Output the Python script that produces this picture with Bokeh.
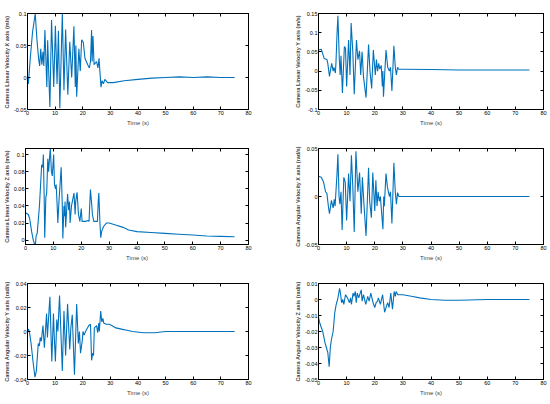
from bokeh.plotting import figure
from bokeh.layouts import column, row
from bokeh.models import FixedTicker, LinearAxis, Range1d, CustomJSTickFormatter
from bokeh.embed import file_html
from bokeh.resources import INLINE

x_ticks = [0, 10, 20, 30, 40, 50, 60, 70, 80]
x_tick_labels = ["0", "10", "20", "30", "40", "50", "60", "70", "80"]
x_range = [0, 80]
x_label = "Time (s)"

# 1: linear velocity X
t1 = [0, 0.3, 1.0, 1.8, 2.8, 3.4, 4.0, 4.4, 4.8, 5.2,
      5.6, 5.9, 6.3, 7.0, 7.3, 8.1, 8.7, 9.5, 10.1, 10.7,
      11.2, 11.7, 12.6, 13.2, 13.8, 14.6, 15.3, 16.0, 16.8, 17.3,
      17.5, 17.8, 18.6, 19.1, 19.6, 20.2, 20.8, 21.3, 21.8, 22.4,
      22.8, 23.2, 23.4, 23.7, 24.1, 25.0, 25.5, 25.9, 26.2, 26.6,
      27.0, 27.5, 28.0, 29.0, 31.0, 35.0, 40.0, 45.0, 50.0, 55.0,
      60.0, 65.0, 70.0, 75.0]
v1 = [0, -0.01, 0.03, 0.07, 0.1, 0.06, 0.03, 0.018, 0.045, 0.02,
      0.04, 0.018, 0.074, -0.015, 0.058, -0.046, 0.09, -0.015, 0.081, -0.01,
      0.073, -0.048, 0.1, -0.02, 0.075, -0.027, 0.056, 0.0, 0.08, -0.015,
      0.05, -0.03, 0.045, 0.01, 0.059, 0.055, 0.03, 0.025, 0.02, 0.015,
      0.025, 0.074, 0.025, 0.065, 0.02, 0.025, 0.015, 0.03, 0.01, -0.015,
      -0.005, -0.01, -0.003, -0.008, -0.008, -0.005, -0.003, -0.001, 0.0, 0.001,
      0.0, 0.001, 0.0, 0.0]
y1_ticks = [-0.05, 0, 0.05, 0.1]
y1_labels = ["-0.05", "0", "0.05", "0.1"]
y1_range = [-0.05, 0.1]
y1_title = "Camera Linear Velocity X axis  (m/s)"

# 2: linear velocity Y
t2 = [0, 1.0, 1.5, 2.0, 3.0, 3.3, 3.9, 4.2, 4.7, 5.2,
      5.5, 6.0, 6.2, 6.6, 6.9, 7.4, 7.7, 8.0, 8.5, 9.2,
      9.6, 10.0, 10.7, 11.2, 11.6, 12.2, 12.7, 13.5, 14.0, 14.6,
      15.0, 15.5, 16.0, 16.9, 17.8, 18.3, 18.9, 19.5, 20.2, 20.6,
      21.0, 21.4, 21.8, 22.3, 22.7, 22.9, 23.1, 24.0, 24.6, 25.2,
      25.6, 26.1, 26.8, 27.3, 27.7, 28.1, 28.5, 30.0, 40.0, 50.0,
      60.0, 75.0]
v2 = [0.055, 0.057, 0.045, 0.033, 0.03, 0.02, -0.014, 0.0, 0.02, 0.0,
      0.01, -0.005, 0.02, 0.1, 0.144, 0.03, -0.01, 0.04, -0.057, 0.064,
      0.06, -0.04, 0.081, -0.01, 0.125, 0.05, -0.06, 0.081, 0.03, 0.053,
      -0.01, 0.05, -0.015, -0.069, 0.069, 0.0, -0.045, 0.055, -0.01, 0.03,
      0.0, 0.02, 0.005, 0.015, -0.04, 0.0, -0.067, 0.055, 0.01, 0.0,
      0.01, -0.052, 0.066, 0.01, -0.01, 0.01, 0.005, 0.005, 0.004, 0.003,
      0.003, 0.003]
y2_ticks = [-0.1, -0.05, 0, 0.05, 0.1, 0.15]
y2_labels = ["-0.1", "-0.05", "0", "0.05", "0.1", "0.15"]
y2_range = [-0.1, 0.15]
y2_title = "Camera Linear Velocity Y axis (m/s)"

# 3: linear velocity Z
t3 = [0, 1.0, 1.5, 2.2, 2.8, 3.3, 3.6, 3.8, 4.2, 5.0,
      5.8, 6.2, 6.4, 6.7, 6.9, 7.3, 7.6, 8.0, 8.3, 8.6,
      8.9, 9.3, 9.6, 10.1, 10.4, 10.8, 11.0, 11.3, 11.6, 12.0,
      12.8, 13.2, 13.4, 13.8, 14.0, 14.2, 14.4, 15.1, 15.5, 15.8,
      16.0, 16.5, 17.4, 17.8, 18.0, 18.5, 19.0, 19.5, 20.0, 20.3,
      21.5, 22.5, 22.8, 23.1, 23.3, 23.8, 24.0, 24.5, 25.8, 26.1,
      26.3, 26.7, 27.0, 27.3, 28.0, 29.0, 30.0, 32.0, 35.0, 37.0,
      40.0, 45.0, 50.0, 55.0, 60.0, 65.0, 70.0, 75.0]
v3 = [0.032, 0.03, 0.025, 0.01, 0.0, -0.005, -0.004, 0.005, 0.008, 0.04,
      0.088, 0.085, 0.1, 0.05, 0.003, 0.05, 0.055, 0.095, 0.08, 0.095,
      0.107, 0.08, 0.075, 0.1, 0.065, 0.06, 0.065, 0.045, 0.02, 0.045,
      0.085, 0.04, 0.002, 0.04, 0.028, 0.045, 0.015, 0.054, 0.035, 0.045,
      0.02, 0.04, 0.055, 0.03, 0.045, 0.056, 0.03, 0.022, 0.037, 0.022,
      0.022, 0.023, 0.022, 0.045, 0.059, 0.04, 0.03, 0.022, 0.022, 0.045,
      0.055, 0.02, 0.003, 0.01, 0.016, 0.02, 0.02, 0.018, 0.015, 0.012,
      0.01, 0.009, 0.008, 0.007, 0.006, 0.005, 0.0045, 0.004]
y3_ticks = [0, 0.02, 0.04, 0.06, 0.08, 0.1]
y3_labels = ["0", "0.02", "0.04", "0.06", "0.08", "0.1"]
y3_range = [-0.005, 0.107]
y3_title = "Camera Linear Velocity Z axis (m/s)"

# 4: angular velocity X
t4 = [0, 1.0, 1.8, 2.5, 3.0, 3.5, 3.9, 4.3, 4.6, 5.2,
      5.6, 5.9, 6.1, 6.6, 6.9, 7.3, 7.6, 8.0, 8.4, 9.0,
      9.5, 10.0, 10.7, 11.2, 11.7, 12.2, 12.7, 13.3, 14.0, 14.6,
      15.2, 15.6, 16.2, 16.9, 17.8, 18.2, 18.8, 19.3, 20.0, 20.4,
      20.8, 21.2, 21.6, 22.0, 22.9, 23.2, 23.4, 24.0, 24.5, 25.2,
      25.6, 26.1, 26.8, 27.3, 27.7, 28.1, 28.6, 30.0, 40.0, 50.0,
      60.0, 75.0]
v4 = [0.021, 0.02, 0.015, 0.005, 0.003, -0.01, -0.018, -0.01, -0.004, -0.012,
      -0.003, -0.01, 0.0, 0.025, 0.044, 0.0, -0.008, 0.005, -0.035, 0.02,
      0.015, -0.025, 0.024, -0.005, 0.043, 0.01, -0.037, 0.047, 0.005, 0.025,
      -0.018, 0.02, -0.01, -0.041, 0.03, -0.005, -0.022, 0.025, -0.015, 0.017,
      -0.01, 0.005, -0.005, 0.0, -0.034, 0.0, -0.01, 0.024, 0.01, 0.0,
      0.005, -0.028, 0.035, 0.005, -0.008, 0.004, 0.0, 0.0, 0.0, 0.0,
      0.0, 0.0]
y4_ticks = [-0.05, 0, 0.05]
y4_labels = ["-0.05", "0", "0.05"]
y4_range = [-0.05, 0.05]
y4_title = "Camera Angular Velocity X axis (rad/s)"

# 5: angular velocity Y
t5 = [0, 0.4, 0.8, 1.3, 2.0, 2.7, 3.2, 3.9, 4.3, 4.6,
      5.0, 5.6, 6.1, 6.9, 7.2, 8.1, 8.8, 9.4, 9.7, 10.1,
      10.6, 11.0, 11.6, 12.6, 13.2, 13.8, 14.5, 15.3, 15.7, 16.2,
      17.0, 17.8, 18.4, 18.8, 19.2, 19.8, 20.1, 20.5, 21.0, 22.2,
      22.8, 23.2, 23.6, 23.9, 24.2, 25.0, 25.4, 25.8, 26.0, 26.5,
      26.9, 27.3, 27.6, 28.5, 29.5, 30.5, 32.0, 34.0, 36.0, 38.0,
      42.0, 46.0, 50.0, 60.0, 75.0]
v5 = [0.0, 0.002, -0.002, -0.01, -0.025, -0.038, -0.033, -0.01, -0.012, -0.005,
      -0.008, 0.005, -0.0136, 0.015, -0.005, 0.029, -0.025, 0.015, -0.005, -0.025,
      0.01, 0.0, 0.03, -0.033, 0.017, -0.02, 0.023, -0.015, 0.003, 0.014,
      -0.036, 0.023, -0.01, 0.0, -0.018, -0.008, 0.0, -0.003, 0.0, 0.005,
      0.006, -0.024, -0.018, -0.02, 0.003, 0.005, -0.001, 0.007, 0.0, 0.017,
      0.008, 0.011, 0.007, 0.006, 0.006, 0.005, 0.003, 0.002, 0.001, 0.0,
      -0.001, -0.001, 0.0, 0.0, 0.0]
y5_ticks = [-0.04, -0.02, 0, 0.02, 0.04]
y5_labels = ["-0.04", "-0.02", "0", "0.02", "0.04"]
y5_range = [-0.04, 0.04]
y5_title = "Camera Angular Velocity Y axis (rad/s)"

# 6: angular velocity Z
t6 = [0, 0.5, 1.5, 2.3, 2.8, 3.3, 3.8, 4.2, 4.6, 5.2,
      5.8, 6.3, 6.8, 7.5, 7.8, 8.2, 8.6, 9.0, 9.6, 10.3,
      11.0, 11.4, 11.7, 12.3, 12.6, 13.1, 13.4, 13.8, 14.3, 15.2,
      15.5, 16.0, 16.8, 17.5, 18.0, 18.6, 19.4, 20.0, 20.5, 21.0,
      21.3, 22.0, 22.8, 23.5, 24.2, 24.6, 25.1, 25.7, 26.3, 26.9,
      27.3, 27.6, 28.2, 30.0, 33.0, 36.0, 40.0, 45.0, 50.0, 60.0,
      75.0]
v6 = [-0.011, -0.015, -0.02, -0.027, -0.03, -0.033, -0.042, -0.03, -0.025, -0.02,
      -0.008, -0.003, 0.0, 0.007, 0.004, -0.002, 0.0, -0.003, 0.003, 0.001,
      -0.002, 0.001, -0.003, 0.004, 0.002, 0.005, -0.002, 0.004, 0.001, 0.006,
      -0.001, 0.003, -0.003, 0.002, -0.001, 0.004, -0.002, -0.005, -0.002, -0.001,
      0.001, -0.003, 0.003, -0.008, -0.004, -0.002, -0.005, 0.004, -0.006, 0.005,
      0.002, 0.005, 0.003, 0.003, 0.002, 0.001, 0.0, -0.0005, -0.0005, 0.0,
      0.0]
y6_ticks = [-0.05, -0.04, -0.03, -0.02, -0.01, 0, 0.01]
y6_labels = ["-0.05", "-0.04", "-0.03", "-0.02", "-0.01", "0", "0.01"]
y6_range = [-0.05, 0.01]
y6_title = "Camera Angular Velocity Z axis (rad/s)"

LINE = "#0072BD"
FONT = "Liberation Sans"


def style_axis(ax, ticks, labels, show):
    ax.ticker = FixedTicker(ticks=ticks)
    ax.major_label_overrides = {t: l for t, l in zip(ticks, labels)}
    ax.minor_tick_line_color = None
    ax.major_tick_in = 3
    ax.major_tick_out = 0
    ax.major_tick_line_color = "black"
    ax.axis_line_color = "black"
    ax.major_label_text_font = FONT
    ax.major_label_text_font_size = "5.5px"
    ax.major_label_text_color = "black"
    ax.major_label_standoff = 1
    if not show:
        ax.formatter = CustomJSTickFormatter(code="return ''")
        ax.major_label_overrides = {}
        ax.major_label_text_font_size = "1px"
        ax.major_label_standoff = 0


def make(t, v, yticks, ylabels, yrange, ytitle, col, rowi):
    if col == 0:
        w, bl, br = 275, 24, 27
    else:
        w, bl, br = 275, 43, 7
    bt = 13 if rowi == 0 else 5
    bb = 21 if rowi == 2 else 34
    h = bt + 96 + bb
    p = figure(width=w, height=h, output_backend="svg", toolbar_location=None,
               x_range=Range1d(x_range[0], x_range[1]),
               y_range=Range1d(yrange[0], yrange[1]),
               min_border_left=bl, min_border_right=br,
               min_border_top=bt, min_border_bottom=bb)
    p.grid.visible = False
    p.outline_line_color = "black"
    p.outline_line_width = 1
    p.background_fill_color = "white"
    p.border_fill_color = "white"
    p.line(t, v, line_color=LINE, line_width=1.1)
    style_axis(p.xaxis[0], x_ticks, x_tick_labels, True)
    style_axis(p.yaxis[0], yticks, ylabels, True)
    p.xaxis.axis_label = x_label
    p.xaxis.axis_label_text_font = FONT
    p.xaxis.axis_label_text_font_size = "6px"
    p.xaxis.axis_label_text_font_style = "normal"
    p.xaxis.axis_label_standoff = 2
    p.yaxis.axis_label = ytitle
    p.yaxis.axis_label_text_font = FONT
    p.yaxis.axis_label_text_font_size = "5.5px"
    p.yaxis.axis_label_text_font_style = "bold"
    p.yaxis.axis_label_standoff = 1
    top = LinearAxis()
    style_axis(top, x_ticks, x_tick_labels, False)
    p.add_layout(top, "above")
    right = LinearAxis()
    style_axis(right, yticks, ylabels, False)
    p.add_layout(right, "right")
    return p


f1 = make(t1, v1, y1_ticks, y1_labels, y1_range, y1_title, 0, 0)
f2 = make(t2, v2, y2_ticks, y2_labels, y2_range, y2_title, 1, 0)
f3 = make(t3, v3, y3_ticks, y3_labels, y3_range, y3_title, 0, 1)
f4 = make(t4, v4, y4_ticks, y4_labels, y4_range, y4_title, 1, 1)
f5 = make(t5, v5, y5_ticks, y5_labels, y5_range, y5_title, 0, 2)
f6 = make(t6, v6, y6_ticks, y6_labels, y6_range, y6_title, 1, 2)

layout = column(row(f1, f2), row(f3, f4), row(f5, f6))
open("out.html", "w").write(file_html(layout, INLINE))
